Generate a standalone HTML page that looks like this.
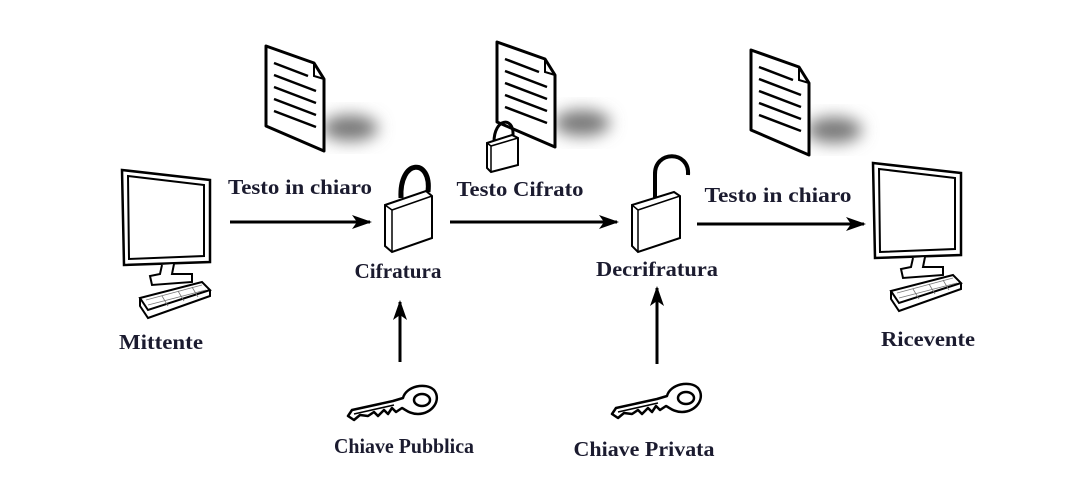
<!DOCTYPE html>
<html><head><style>
html,body{margin:0;padding:0;background:#fff;}
svg{display:block}
text{font-family:"Liberation Serif",serif;font-weight:bold;font-size:21px;fill:#1b1b2f;text-anchor:middle}
</style></head><body>
<svg width="1080" height="492" viewBox="0 0 1080 492">
<defs>
<filter id="b" x="-50%" y="-50%" width="200%" height="200%"><feGaussianBlur stdDeviation="8"/></filter>
<marker id="ah" viewBox="0 0 20 14" refX="18" refY="7" markerWidth="20" markerHeight="14" markerUnits="userSpaceOnUse" orient="auto"><path d="M0,0 L20,7 L0,14 L5,7 Z" fill="#000"/></marker>
<g id="doc">
<path d="M0,0 L48,17 L58,33 L58,105 L0,80 Z" fill="#fff" stroke="#000" stroke-width="3" stroke-linejoin="round"/>
<path d="M48,17 L48,30 L58,33" fill="none" stroke="#000" stroke-width="2"/>
<g stroke="#000" stroke-width="2.5"><line x1="8" y1="17" x2="42" y2="30"/><line x1="8" y1="29" x2="50" y2="45"/><line x1="8" y1="41" x2="50" y2="57"/><line x1="8" y1="53" x2="50" y2="69"/><line x1="8" y1="65" x2="50" y2="81"/></g>
</g>
<g id="comp">
<path d="M0,0 L88,10 L88,92 L2,95 Z" fill="#fff" stroke="#000" stroke-width="2.5"/>
<path d="M6,6 L82,15 L82,86 L7,89 Z" fill="#fff" stroke="#000" stroke-width="2"/>
<path d="M40,95 L38,104 L28,106 L30,115 L70,112 L70,104 L50,104 L52,94" fill="#fff" stroke="#000" stroke-width="2"/>
<path d="M18,128 L80,112 L88,120 L26,140 Z" fill="#fff" stroke="#000" stroke-width="2"/>
<path d="M18,128 L18,136 L26,148 L88,126 L88,120" fill="none" stroke="#000" stroke-width="2"/>
<path d="M24,130 L80,115 M26,135 L84,120 M40,126 L46,136 M56,121 L62,131 M70,117 L76,127" stroke="#777" stroke-width="0.8" fill="none"/>
</g>
<g id="key">
<path d="M0,30 L4,24 L45,15 L55,12 C58,0 78,-4 86,4 C94,14 84,28 70,28 C62,28 58,24 54,22 L48,26 L44,22 L40,28 L36,24 L30,30 L26,26 L20,30 L12,29 L6,34 Z" fill="#fff" stroke="#000" stroke-width="2.5" stroke-linejoin="round"/>
<ellipse cx="74" cy="14" rx="8" ry="6" fill="#fff" stroke="#000" stroke-width="2.5"/>
<path d="M6,28 L46,19" stroke="#000" stroke-width="1.5"/>
</g>
</defs>

<ellipse cx="350" cy="128" rx="28" ry="13" fill="#777" filter="url(#b)"/>
<ellipse cx="582" cy="123" rx="28" ry="13" fill="#777" filter="url(#b)"/>
<ellipse cx="834" cy="130" rx="28" ry="13" fill="#777" filter="url(#b)"/>

<use href="#doc" x="266" y="46"/>
<use href="#doc" x="497" y="42"/>
<use href="#doc" x="751" y="50"/>

<path d="M494,142 C494,118 514,116 513,135" fill="none" stroke="#000" stroke-width="3"/>
<path d="M487,143 L512,135 L518,138 L518,165 L491,172 L487,168 Z" fill="#fff" stroke="#000" stroke-width="2"/>
<path d="M487,143 L491,146 L518,138 M491,146 L491,172" fill="none" stroke="#000" stroke-width="1.5"/>

<use href="#comp" x="122" y="170"/>
<use href="#comp" x="873" y="163"/>

<path d="M401,198 C399,158 432,158 428,192" fill="none" stroke="#000" stroke-width="5"/>
<path d="M385,205 L426,191 L432,196 L432,238 L392,252 L385,246 Z" fill="#fff" stroke="#000" stroke-width="2"/>
<path d="M385,205 L392,210 L432,196 M392,210 L392,252" fill="none" stroke="#000" stroke-width="1.5"/>
<path d="M655,198 L655,175 C654,150 690,150 688,175" fill="none" stroke="#000" stroke-width="4"/>
<path d="M632,205 L674,192 L680,196 L680,238 L638,252 L632,246 Z" fill="#fff" stroke="#000" stroke-width="2"/>
<path d="M632,205 L638,210 L680,196 M638,210 L638,252" fill="none" stroke="#000" stroke-width="1.5"/>

<use href="#key" x="348" y="386"/>
<use href="#key" x="612" y="384"/>

<g stroke="#000" stroke-width="3" marker-end="url(#ah)">
<line x1="230" y1="222" x2="370" y2="222"/>
<line x1="450" y1="222" x2="617" y2="222"/>
<line x1="697" y1="224" x2="864" y2="224"/>
<line x1="400" y1="362" x2="400" y2="302"/>
<line x1="657" y1="364" x2="657" y2="288"/>
</g>

<text x="300" y="194" textLength="144" lengthAdjust="spacingAndGlyphs">Testo in chiaro</text>
<text x="520" y="196" textLength="127" lengthAdjust="spacingAndGlyphs">Testo Cifrato</text>
<text x="778" y="202" textLength="147" lengthAdjust="spacingAndGlyphs">Testo in chiaro</text>
<text x="398" y="278" textLength="87" lengthAdjust="spacingAndGlyphs">Cifratura</text>
<text x="657" y="276" textLength="122" lengthAdjust="spacingAndGlyphs">Decrifratura</text>
<text x="161" y="349" textLength="84" lengthAdjust="spacingAndGlyphs">Mittente</text>
<text x="928" y="346" textLength="94" lengthAdjust="spacingAndGlyphs">Ricevente</text>
<text x="404" y="453" textLength="140" lengthAdjust="spacingAndGlyphs">Chiave Pubblica</text>
<text x="644" y="456" textLength="141" lengthAdjust="spacingAndGlyphs">Chiave Privata</text>
</svg>
</body></html>
